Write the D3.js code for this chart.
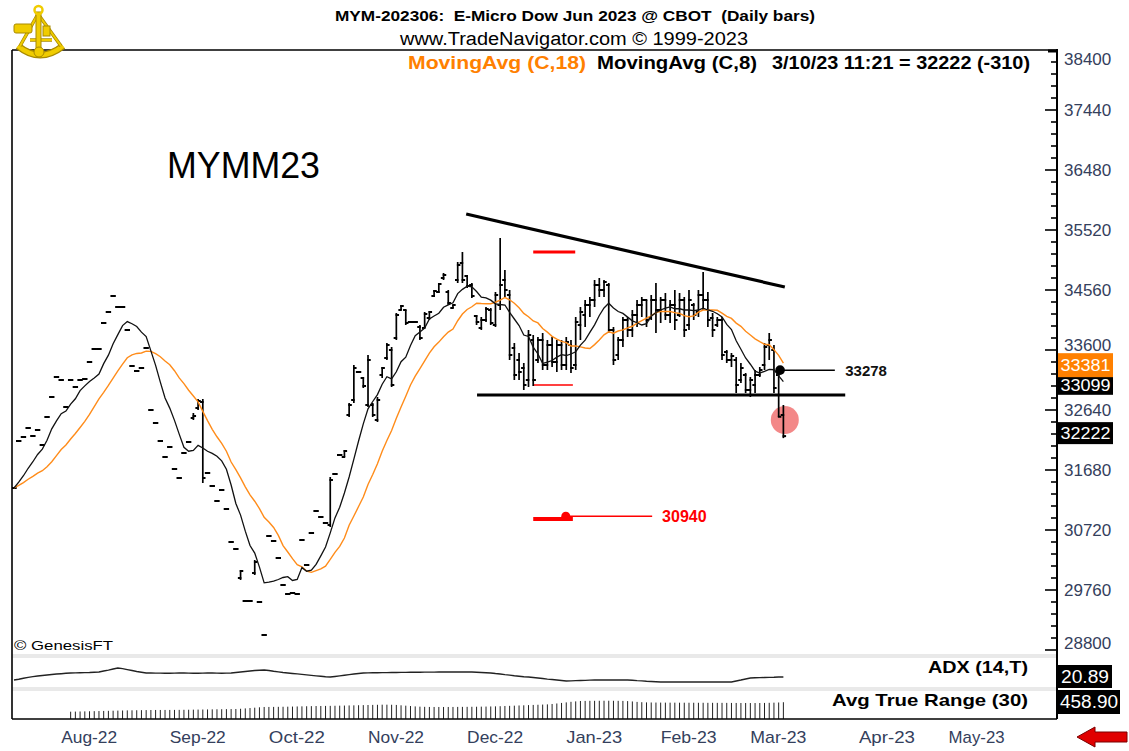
<!DOCTYPE html>
<html><head><meta charset="utf-8">
<script src="https://cdn.jsdelivr.net/npm/d3@7"></script>
<style>
html,body{margin:0;padding:0;background:#fff;}
svg{display:block;font-family:"Liberation Sans",Arial,Helvetica,sans-serif;}
</style></head><body>
<svg id="c" width="1129" height="751"></svg>
<script>
// ---------------- DATA ----------------
const startDate = "2022-07-18";
const holidays = ["2022-09-05","2022-11-24","2022-12-26","2023-01-02","2023-01-16","2023-02-20","2023-04-07","2023-05-29"];
const axisSlots = 219;

const opens = [31392,32144,32208,32352,32224,32320,32080,32528,32848,33168,33120,32688,33120,33008,33120,33136,33408,33616,33616,34032,34208,34464,34288,34288,33920,33344,33264,33312,33632,32640,32432,32144,31888,32048,31696,31552,31952,32128,32512,32672,32768,31632,31424,31184,31360,31056,30528,30416,29952,29584,29584,30032,29568,29040,30624,30544,30272,29840,29696,29712,29696,30560,30160,30672,31024,30928,30832,30800,31616,31920,31888,32560,32800,33248,33152,32720,32720,32480,33200,33472,33600,33792,34240,34240,34048,34048,33968,33952,34112,34464,34528,34752,34528,34272,34720,34992,34784,34640,34144,33952,34080,34240,34000,34320,34720,34480,33632,33440,33312,33120,33760,33440,33760,33360,33680,33408,33680,33360,33680,33360,34000,34160,34320,34400,34640,34560,34640,33920,33520,33760,34080,33920,34160,34320,34400,34112,34400,34240,34400,34160,34320,34160,34400,34000,34320,34208,34480,34400,34112,34000,34080,33568,33440,33440,33120,33200,32960,33040,33200,33360,33680,33600,33200,32560];
const highs = [31392,32144,32208,32352,32224,32320,32080,32528,32848,33168,33120,32688,33120,33008,33120,33136,33408,33616,33616,34032,34208,34464,34288,34288,33920,33344,33264,33312,33632,32640,32432,32144,31888,32048,31696,31552,31952,32128,32592,32816,32816,31632,31424,31184,31360,31056,30528,30416,30080,29584,29584,30240,29568,29040,30624,30544,30272,29840,29696,29712,29696,30560,30160,30672,31024,30928,30832,31568,31616,31920,32000,32752,33360,33248,33168,33520,32752,32848,33328,33712,33648,34192,34320,34240,34048,34048,34000,34208,34224,34560,34672,34832,34560,34320,35008,35168,34800,34672,34160,34128,34288,34272,34528,35392,34880,34560,33712,33552,33392,33920,33840,33808,33872,33760,33808,33760,33760,33808,33760,34128,34288,34400,34448,34720,34752,34720,34672,33968,33808,34128,34128,34240,34400,34448,34400,34480,34672,34448,34512,34400,34560,34512,34448,34560,34352,34560,34848,34528,34192,34128,34128,33600,33552,33488,33392,33232,33168,33280,33328,33712,33872,33680,33280,32720];
const lows = [31392,32144,32208,32352,32224,32320,32080,32528,32848,33168,33120,32688,33120,33008,33120,33136,33408,33616,33616,34032,34208,34464,34288,34288,33920,33344,33264,33312,33632,32640,32432,32144,31888,32048,31696,31552,31952,32128,32480,32640,31472,31632,31424,31184,31360,31056,30528,30416,29920,29584,29584,30000,29568,29040,30624,30544,30272,29840,29696,29712,29696,30560,30160,30672,31024,30928,30832,30768,31616,31920,31888,32528,32752,33248,32992,32688,32528,32448,33152,33440,33008,33760,34240,34000,34048,34048,33760,33952,34080,34448,34512,34720,34320,34272,34672,34672,34592,34432,34000,33920,34048,34000,33968,34240,34448,33440,33120,33120,32960,33008,33024,33392,33280,33280,33328,33248,33280,33280,33232,33280,33760,33968,34128,34288,34448,34448,33872,33360,33440,33648,33808,33808,33968,34128,33968,34080,33872,34032,34080,34032,33920,34128,33808,33920,34080,34128,34240,33968,33808,33968,33440,33392,33328,32912,33072,32912,32848,32912,33168,33280,33440,32912,32528,32190];
const closes = [31392,32144,32208,32352,32224,32320,32080,32528,32848,33168,33120,32688,33120,33008,33120,33136,33408,33616,33616,34032,34208,34464,34288,34288,33920,33344,33264,33312,33632,32640,32432,32144,31888,32048,31696,31552,31952,32128,32544,32784,31552,31632,31424,31184,31360,31056,30528,30416,30064,29584,29584,30208,29568,29040,30624,30544,30272,29840,29696,29712,29696,30560,30160,30672,31024,30928,30832,31520,31616,31920,31984,32720,33312,33248,33024,33440,32560,32800,33312,33680,33040,34160,34304,34032,34048,34048,33792,34176,34208,34544,34656,34800,34352,34320,34960,34720,34624,34464,34048,34080,34256,34032,34480,34640,34560,33520,33200,33248,33040,33840,33120,33760,33360,33680,33408,33680,33360,33728,33312,34048,34208,34320,34400,34640,34560,34688,33920,33440,33760,34080,33920,34160,34320,34400,34080,34400,34240,34400,34160,34320,34080,34400,33920,34400,34160,34480,34400,34080,33920,34080,33520,33440,33504,33040,33312,32960,33120,33200,33280,33648,33760,32992,32532,32222];

const adx = [18.3,19.0,19.8,20.5,21.1,21.7, 22.1,22.5,22.9,23.3,23.6,23.9,24.2, 24.3,24.4,24.5,24.6,24.8,25.0, 25.8,26.6,27.5,28.3, 27.8,27.0,26.2,25.4,24.8,24.2,
 24.2,24.1,24.1,24.0,24.0,24.1,24.2,24.2,24.1,24.0,24.0,24.1,24.2,24.2,24.1,24.0,24.1,24.2,
 24.6,25.0,25.4,25.8,26.2,26.5,26.7, 26.2,25.6,25.1,24.6,24.2, 23.8,23.4,23.0,22.6,22.2,21.8,21.4,21.0,20.8,
 21.3,21.8,22.3,22.8,23.3,23.8,24.2,
 24.3,24.4,24.4,24.5,24.5,24.6,24.6,24.7,24.7,24.8,24.8,24.8,24.9,24.9,24.9,25.0,25.0,25.0,25.0,25.0,25.0,25.0,25.0,
 24.8,24.6,24.4,24.2, 23.7,23.3,22.8,22.4,21.9,21.5,21.1,20.8, 20.4,20.0,19.6,19.1,18.7,18.3,17.9,17.5,
 17.6,17.8,17.9,18.0,18.2,18.3, 18.3,18.3,18.3,18.3,18.3,18.3,18.3, 18.1,17.8,17.6,17.3,17.1,16.9,16.7,
 16.7,16.7,16.7,16.7,16.7,16.7,16.7,16.7,16.7,16.7,16.7,16.7,16.7,16.7,16.7,
 17.5,18.3,19.2,20.0, 20.2,20.3,20.4,20.5,20.6,20.8,20.89];

const atr = [null,null,null,null,null,null,null,null,null,null,null,null,
 200,203,206,209,212,215,218,221,224,227,230,233,
 236,238,240,242,244,246,247,247,248,248,249,250,
 252,254,256,258,260,262,264,266,268,270,272,274,
 280,290,300,310,320,
 329,330,331,333,335,337,340,343,346,349,352,355,
 356,358,360,362,365,368,371,374,377,380,383,386,389,392,392,390,385,375,
 365,355,345,338,333,330,329,329,329,329,330,331,332,333,334,336,338,340,343,346,350,356,
 360,365,370,375,380,385,390,395,400,411,
 425,440,455,470,482,493,
 495,497,498,499,500,500,499,497,495,490,480,468,
 460,455,452,450,449,448,447,447,446,446,445,445,444,444,443,443,442,442,441,
 440,439,438,438,437,437,438,440,443,447,452,458.9];

const maSlowLen = 18, maFastLen = 8;
const lastValues = {ma18: "33381", ma8: "33099", close: "32222", adx: "20.89", atr: "458.90"};
const lastCloseNum = 32222, ma18Num = 33381, ma8Num = 33099;

// annotations (bar index, price)
const resistIdx = [95.8, 163.3], resistPx = [35776, 34608];
const supportIdx = [98.1, 176.1], supportPx = 32880;
const rangeTopIdx = [110, 118.9], rangeTopPx = 35168;
const rangeBotIdx = [110, 118.4], rangeBotPx = 33040;
const targetBarIdx = [110, 118.4], targetBarPx = 30896;
const targetDotIdx = 116.9, targetLineEndIdx = 135.2, targetPx = 30940, targetLabelIdx = 137.3;
const breakIdx = 162.3, breakEndIdx = 173.9, breakPx = 33278, breakLabelIdx = 176.1;
const circleIdx = 163.3, circlePx = 32480;

const priceTicksMajor = d3.range(28800, 38401, 960);
const priceTicksMinor = d3.range(28800, 38401, 192);

// ---------------- HELPERS ----------------
function tradingDays(start, n){
  const out=[]; let d=new Date(start+"T00:00:00Z");
  const hs=new Set(holidays);
  while(out.length<n){
    const wd=d.getUTCDay(); const s=d.toISOString().slice(0,10);
    if(wd!==0 && wd!==6 && !hs.has(s)) out.push(new Date(d));
    d=new Date(d.getTime()+86400000);
  }
  return out;
}
// simple moving average, window seeded with the first close before the data starts
function sma(arr,n){
  return arr.map((v,i)=>{
    let s=0; for(let k=i-n+1;k<=i;k++) s += arr[Math.max(0,k)];
    return s/n;
  });
}

const days = tradingDays(startDate, axisSlots);
const fmtMonth = d3.utcFormat("%b-%y");
const monthStarts = days.map((d,i)=>({d,i})).filter((o,k,a)=>k>0 && o.d.getUTCMonth()!==a[k-1].d.getUTCMonth());

// ---------------- SCALES ----------------
const svg = d3.select("#c");
const x = d3.scaleLinear().domain([0, axisSlots-1]).range([14, 1043]);
const y = d3.scaleLinear().domain([28720, 38400]).range([655, 50]);
const yAdx = d3.scaleLinear().domain([10, 35]).range([690, 660]);
const yAtr = d3.scaleLinear().domain([0, 520]).range([719, 700]);

svg.append("rect").attr("width",1129).attr("height",751).attr("fill","#fff");

// panel separators
[654, 687].forEach(v=>svg.append("rect").attr("x",12).attr("y",v).attr("width",1045).attr("height",4).attr("fill","#e9e9e9"));

// clip
svg.append("clipPath").attr("id","pc").append("rect").attr("x",12).attr("y",50).attr("width",1045).attr("height",604);
const gP = svg.append("g").attr("clip-path","url(#pc)");

// ---------------- ANNOTATIONS (behind) ----------------
gP.append("line").attr("x1",x(resistIdx[0])).attr("x2",x(resistIdx[1])).attr("y1",y(resistPx[0])).attr("y2",y(resistPx[1])).attr("stroke","#000").attr("stroke-width",3.2);
gP.append("line").attr("x1",x(supportIdx[0])).attr("x2",x(supportIdx[1])).attr("y1",y(supportPx)).attr("y2",y(supportPx)).attr("stroke","#000").attr("stroke-width",3);
gP.append("line").attr("x1",x(rangeTopIdx[0])).attr("x2",x(rangeTopIdx[1])).attr("y1",y(rangeTopPx)).attr("y2",y(rangeTopPx)).attr("stroke","#f00").attr("stroke-width",2.8);
gP.append("line").attr("x1",x(rangeBotIdx[0])).attr("x2",x(rangeBotIdx[1])).attr("y1",y(rangeBotPx)).attr("y2",y(rangeBotPx)).attr("stroke","#f00").attr("stroke-width",1.6);
gP.append("line").attr("x1",x(targetBarIdx[0])).attr("x2",x(targetBarIdx[1])).attr("y1",y(targetBarPx)).attr("y2",y(targetBarPx)).attr("stroke","#f00").attr("stroke-width",4);
gP.append("line").attr("x1",x(targetDotIdx)).attr("x2",x(targetLineEndIdx)).attr("y1",y(targetPx)).attr("y2",y(targetPx)).attr("stroke","#f00").attr("stroke-width",1.5);
gP.append("circle").attr("cx",x(targetDotIdx)).attr("cy",y(targetPx)).attr("r",4.5).attr("fill","#f00");
gP.append("text").attr("x",x(targetLabelIdx)).attr("y",y(targetPx)).attr("dy","0.36em").attr("fill","#f00").attr("font-weight","bold").attr("font-size",16).text("30940");

gP.append("circle").attr("cx",x(circleIdx)).attr("cy",y(circlePx)).attr("r",14).attr("fill","#ef5a5a").attr("opacity",0.72);

// ---------------- BARS ----------------
const gb = gP.append("g").attr("stroke","#000");
closes.forEach((c,i)=>{
  const xi=x(i);
  if(highs[i]!==lows[i]) gb.append("line").attr("x1",xi).attr("x2",xi).attr("y1",y(highs[i])).attr("y2",y(lows[i])).attr("stroke-width",1.7);
  gb.append("line").attr("x1",xi-2.7).attr("x2",xi+0.8).attr("y1",y(opens[i])).attr("y2",y(opens[i])).attr("stroke-width",2);
  gb.append("line").attr("x1",xi-0.8).attr("x2",xi+2.7).attr("y1",y(c)).attr("y2",y(c)).attr("stroke-width",2);
});

// ---------------- MOVING AVERAGES ----------------
const maSlow = sma(closes, maSlowLen), maFast = sma(closes, maFastLen);
const ln = d3.line().x((d,i)=>x(i)).y(d=>y(d));
gP.append("path").attr("d",ln(maSlow)).attr("fill","none").attr("stroke","#ff8c1a").attr("stroke-width",1.4);
gP.append("path").attr("d",ln(maFast)).attr("fill","none").attr("stroke","#111").attr("stroke-width",1.3);

// breakout marker
gP.append("line").attr("x1",x(breakIdx)).attr("x2",x(breakEndIdx)).attr("y1",y(breakPx)).attr("y2",y(breakPx)).attr("stroke","#000").attr("stroke-width",1.5);
gP.append("circle").attr("cx",x(breakIdx)).attr("cy",y(breakPx)).attr("r",4.8).attr("fill","#000");
gP.append("text").attr("x",x(breakLabelIdx)).attr("y",y(breakPx)).attr("dy","0.36em").attr("font-weight","bold").attr("font-size",15).attr("fill","#111").text("33278");

// ---------------- ADX ----------------
svg.append("path").attr("d", d3.line().x((d,i)=>x(i)).y(d=>yAdx(d))(adx)).attr("fill","none").attr("stroke","#222").attr("stroke-width",1.4);

// ---------------- ATR ----------------
const ga = svg.append("g").attr("stroke","#222").attr("stroke-width",1);
atr.forEach((v,i)=>{ if(v==null) return; ga.append("line").attr("x1",x(i)).attr("x2",x(i)).attr("y1",yAtr(0)).attr("y2",yAtr(v)); });

// ---------------- FRAME & AXES ----------------
svg.append("line").attr("x1",12).attr("x2",1057).attr("y1",50).attr("y2",50).attr("stroke","#000").attr("stroke-width",1.6);
svg.append("line").attr("x1",12).attr("x2",12).attr("y1",50).attr("y2",719).attr("stroke","#000").attr("stroke-width",1.6);
svg.append("line").attr("x1",12).attr("x2",1057).attr("y1",719).attr("y2",719).attr("stroke","#000").attr("stroke-width",1.6);
svg.append("line").attr("x1",1057).attr("x2",1057).attr("y1",49).attr("y2",719).attr("stroke","#000").attr("stroke-width",2);
svg.append("line").attr("x1",1048).attr("x2",1057).attr("y1",51).attr("y2",51).attr("stroke","#000").attr("stroke-width",3);

const axisCol = "#34405c";
priceTicksMinor.forEach(p=>{ const yy=y(p); if(yy<52||yy>654) return;
  const major = priceTicksMajor.includes(p);
  svg.append("line").attr("x1", major?1045:1051).attr("x2",1057).attr("y1",yy).attr("y2",yy).attr("stroke","#000").attr("stroke-width",1.6);
});
priceTicksMajor.forEach(p=>{
  const yy=Math.max(59, Math.min(643, y(p)));
  svg.append("text").attr("x",1064).attr("y",yy - (p===33600?5:0)).attr("dy","0.36em").attr("font-size",17).attr("fill",axisCol).text(p);
});

// value boxes on the price axis
function box(v, txt, bg, fg, h, shift){
  const cy = y(v) + shift;
  svg.append("rect").attr("x",1058).attr("y",cy-h/2).attr("width",55).attr("height",h).attr("fill",bg);
  svg.append("text").attr("x",1085.5).attr("y",cy).attr("dy","0.36em").attr("text-anchor","middle").attr("font-size",16).attr("fill",fg).attr("textLength",50).attr("lengthAdjust","spacingAndGlyphs").text(txt);
}
box(ma8Num, lastValues.ma8, "#000", "#fff", 20, 3.5);
box(ma18Num, lastValues.ma18, "#ff8000", "#fff", 24, 1.5);
box(lastCloseNum, lastValues.close, "#000", "#fff", 22, -3);

svg.append("rect").attr("x",1058).attr("y",665).attr("width",54).attr("height",23).attr("fill","#000");
svg.append("text").attr("x",1085).attr("y",677).attr("dy","0.36em").attr("text-anchor","middle").attr("font-size",18).attr("fill","#fff").attr("textLength",48).attr("lengthAdjust","spacingAndGlyphs").text(lastValues.adx);
svg.append("rect").attr("x",1058).attr("y",690).attr("width",62).attr("height",24).attr("fill","#000");
svg.append("text").attr("x",1089).attr("y",702).attr("dy","0.36em").attr("text-anchor","middle").attr("font-size",18).attr("fill","#fff").attr("textLength",58).attr("lengthAdjust","spacingAndGlyphs").text(lastValues.atr);

svg.append("text").attr("x",1028).attr("y",667).attr("dy","0.36em").attr("text-anchor","end").attr("font-weight","bold").attr("font-size",17).attr("fill","#000").attr("textLength",100).attr("lengthAdjust","spacingAndGlyphs").text("ADX (14,T)");
svg.append("text").attr("x",1028).attr("y",700).attr("dy","0.36em").attr("text-anchor","end").attr("font-weight","bold").attr("font-size",17).attr("fill","#000").attr("textLength",196).attr("lengthAdjust","spacingAndGlyphs").text("Avg True Range (30)");

// month labels
monthStarts.forEach(o=>{
  svg.append("text").attr("x",x(o.i)).attr("y",737).attr("dy","0.36em").attr("font-size",17).attr("fill",axisCol).attr("textLength",56).attr("lengthAdjust","spacingAndGlyphs").text(fmtMonth(o.d));
});

// ---------------- TEXTS ----------------
svg.append("text").attr("x",575).attr("y",16).attr("dy","0.36em").attr("text-anchor","middle").attr("font-weight","bold").attr("font-size",15).attr("fill","#000").attr("textLength",480).attr("lengthAdjust","spacingAndGlyphs").attr("xml:space","preserve").text("MYM-202306:  E-Micro Dow Jun 2023 @ CBOT  (Daily bars)");
svg.append("text").attr("x",574).attr("y",39).attr("dy","0.36em").attr("text-anchor","middle").attr("font-size",18).attr("fill","#000").attr("textLength",348).attr("lengthAdjust","spacingAndGlyphs").text("www.TradeNavigator.com © 1999-2023");
svg.append("text").attr("x",408).attr("y",63).attr("dy","0.36em").attr("font-weight","bold").attr("font-size",18).attr("fill","#ff8000").attr("textLength",178).attr("lengthAdjust","spacingAndGlyphs").text("MovingAvg (C,18)");
svg.append("text").attr("x",597).attr("y",63).attr("dy","0.36em").attr("font-weight","bold").attr("font-size",18).attr("fill","#000").attr("textLength",160).attr("lengthAdjust","spacingAndGlyphs").text("MovingAvg (C,8)");
svg.append("text").attr("x",772).attr("y",63).attr("dy","0.36em").attr("font-weight","bold").attr("font-size",18).attr("fill","#000").attr("textLength",258).attr("lengthAdjust","spacingAndGlyphs").text("3/10/23 11:21 = 32222 (-310)");
svg.append("text").attr("x",167).attr("y",165).attr("dy","0.36em").attr("font-size",37).attr("fill","#000").attr("textLength",153).attr("lengthAdjust","spacingAndGlyphs").text("MYMM23");
svg.append("text").attr("x",14).attr("y",645).attr("dy","0.36em").attr("font-size",13).attr("fill","#000").attr("textLength",99).attr("lengthAdjust","spacingAndGlyphs").text("© GenesisFT");

// ---------------- LOGO ----------------
const lg = svg.append("g");
const gold="#f0cc00", goldD="#a88a00";
lg.append("path").attr("d","M18,46 Q40,64 63,46").attr("fill","none").attr("stroke",goldD).attr("stroke-width",7);
lg.append("path").attr("d","M18,46 Q40,64 63,46").attr("fill","none").attr("stroke",gold).attr("stroke-width",4.5);
lg.append("path").attr("d","M38,14 L20,46 M38,14 L61,46 M30,40 L52,40").attr("stroke",goldD).attr("stroke-width",3.5).attr("fill","none");
lg.append("path").attr("d","M38,14 L20,46 M38,14 L61,46 M30,40 L52,40").attr("stroke",gold).attr("stroke-width",2).attr("fill","none");
lg.append("rect").attr("x",36).attr("y",12).attr("width",5).attr("height",44).attr("fill",gold).attr("stroke",goldD).attr("stroke-width",1);
lg.append("rect").attr("x",14).attr("y",24).attr("width",18).attr("height",9).attr("rx",2).attr("fill",gold).attr("stroke",goldD).attr("stroke-width",1);
lg.append("circle").attr("cx",38.5).attr("cy",10).attr("r",4).attr("fill","none").attr("stroke",gold).attr("stroke-width",2.5);
lg.append("rect").attr("x",43).attr("y",26).attr("width",7).attr("height",10).attr("fill",gold).attr("stroke",goldD).attr("stroke-width",1);
lg.append("circle").attr("cx",39).attr("cy",52).attr("r",5).attr("fill",gold).attr("stroke",goldD).attr("stroke-width",1);

// ---------------- ARROW ----------------
svg.append("path").attr("d","M1077,737 L1095,727 L1095,732 L1127,732 L1127,742 L1095,742 L1095,747 Z").attr("fill","#e00000").attr("stroke","#7a0000").attr("stroke-width",1);
</script>
</body></html>
